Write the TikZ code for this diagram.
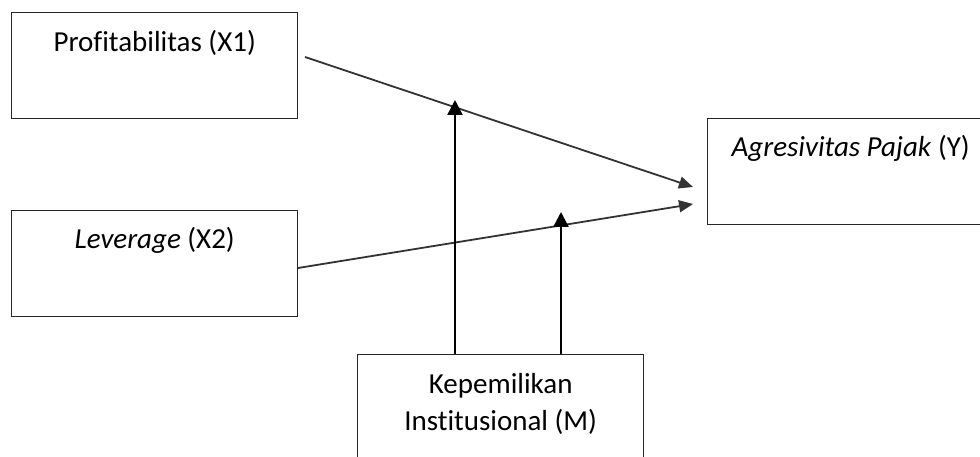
\documentclass[tikz,border=0pt]{standalone}
\usepackage{fontspec}
\setmainfont{Carlito}[Ligatures=NoCommon]
\usetikzlibrary{arrows.meta}

\tikzset{
	varbox/.style={draw=black!85, line width=1.4pt, minimum width=286pt, minimum height=106pt, anchor=north west, inner sep=0pt},
	vartext/.style={anchor=base, inner sep=0pt, font=\fontsize{29}{37}\selectfont, align=center},
	effect/.style={draw=black!80, line width=1.8pt, -{Triangle[length=14pt, width=12pt]}},
	moderate/.style={draw=black, line width=2.4pt, -{Triangle[length=15pt, width=15pt]}}
}

\begin{document}
\begin{tikzpicture}[x=1pt, y=-1pt]
	\useasboundingbox (0, 0) rectangle (980, 457);
	\clip (0, 0) rectangle (980, 457);

	% variable boxes
	\node[varbox] (x1) at (11, 12) {};
	\node[varbox] (x2) at (11, 210) {};
	\node[varbox] (y) at (707, 118) {};
	\node[varbox, minimum height=120pt] (m) at (357, 354) {};

	\node[vartext] (x1t) at ([yshift=-40pt]x1.north) {Profitabilitas (X1)};
	\node[vartext] (x2t) at ([yshift=-39pt]x2.north) {\textit{Leverage} (X2)};
	\node[vartext] (yt) at ([yshift=-39pt]y.north) {\textit{Agresivitas Pajak} (Y)};
	\node[vartext] (mt) at ([yshift=-76pt]m.north) {Kepemilikan\\Institusional (M)};

	% ends of the connectors
	\coordinate (s1) at (305, 57);
	\coordinate (e1) at (693, 187);
	\coordinate (s2) at (298, 268);
	\coordinate (e2) at (693, 204);
	\coordinate (t1) at (455, 100);
	\coordinate (t2) at (561, 212);

	\draw[effect] (s1) -- (e1);
	\draw[effect] (s2) -- (e2);
	\draw[moderate] (m.north -| t1) -- (t1);
	\draw[moderate] (m.north -| t2) -- (t2);
\end{tikzpicture}
\end{document}
